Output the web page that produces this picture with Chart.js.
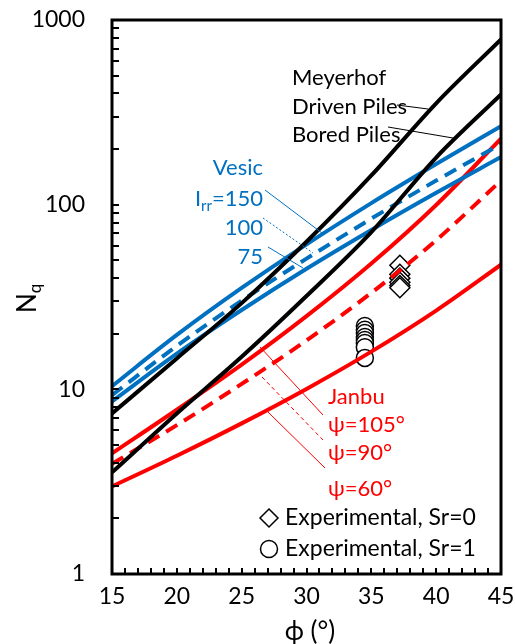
<!DOCTYPE html>
<html>
<head>
<meta charset="utf-8">
<script src="https://cdn.jsdelivr.net/npm/chart.js@4.4.1/dist/chart.umd.min.js"></script>
<style>
  html, body { margin: 0; padding: 0; background: #fff; }
  #wrap { width: 515px; height: 644px; }
</style>
</head>
<body>
<div id="wrap"><canvas id="chart" width="515" height="644"></canvas></div>
<script>
// friction angle (deg)
const phi = [15, 20, 25, 30, 35, 40, 45];

// Meyerhof
const meyerhofDriven = [7.4, 14.7, 29.3, 63, 144, 354, 785];
const meyerhofBored = [3.55, 7.4, 15, 32, 71, 180, 395];

// Vesic
const vesic150 = [10.4, 19.7, 35.4, 61, 102, 166, 266];
const vesic100 = [9.3, 17.2, 30.2, 51, 84, 135, 213];
const vesic75 = [8.6, 15.6, 26.9, 45, 73, 116, 181];

// Janbu
const janbu105 = [4.5, 7.75, 13.6, 24.9, 48, 99.6, 228];
const janbu90 = [3.95, 6.4, 10.7, 18.4, 33.3, 64.2, 135];
const janbu60 = [2.98, 4.37, 6.54, 10.05, 16.0, 26.7, 47.3];

// experiments
const expSr0Phi = [37.2, 37.2, 37.2, 37.2, 37.2, 37.2];
const expSr0Nq = [47, 42, 40, 38, 36.5, 35.5];
const expSr1Phi = [34.5, 34.5, 34.5, 34.5, 34.5, 34.5, 34.5, 34.5];
const expSr1Nq = [22, 21, 20.2, 19.2, 18.5, 17.8, 16.9, 14.8];

const xTicks = [15, 20, 25, 30, 35, 40, 45];
const yTicks = [1, 10, 100, 1000];

const BLUE = '#0070C0';
const RED = '#FF0000';
const FONT = 'Lato, "Open Sans", sans-serif';

function pts(xs, ys) {
  return xs.map((x, i) => ({ x: x, y: ys[i] }));
}

function curve(data, color, dashed) {
  return {
    data: pts(phi, data),
    borderColor: color,
    borderWidth: 4,
    borderDash: dashed ? [13, 8] : [],
    pointRadius: 0,
    showLine: true,
    fill: false,
    cubicInterpolationMode: 'monotone'
  };
}

function noPad(s) {
  s.paddingTop = 0;
  s.paddingBottom = 0;
  s.paddingLeft = 0;
  s.paddingRight = 0;
}

// inward ticks, frame, annotations
const decorPlugin = {
  id: 'decor',
  afterDraw(chart) {
    const ctx = chart.ctx;
    const a = chart.chartArea;
    const xs = chart.scales.x;
    const ys = chart.scales.y;
    ctx.save();

    // minor ticks pointing inside
    ctx.strokeStyle = '#000';
    ctx.lineWidth = 2;
    ctx.beginPath();
    for (let d = 16; d < 45; d++) {
      const px = Math.round(xs.getPixelForValue(d));
      ctx.moveTo(px, a.bottom);
      ctx.lineTo(px, a.bottom - 6);
    }
    for (let k = 0; k < 3; k++) {
      for (let m = 1; m <= 9; m++) {
        if (k === 0 && m === 1) continue;
        const py = Math.round(ys.getPixelForValue(m * Math.pow(10, k)));
        ctx.moveTo(a.left, py);
        ctx.lineTo(a.left + 7, py);
      }
    }
    ctx.stroke();

    // frame
    ctx.lineWidth = 3;
    ctx.strokeRect(a.left, a.top, a.right - a.left, a.bottom - a.top);

    // leader lines
    function leader(x1, y1, x2, y2, color, dash, w) {
      ctx.beginPath();
      ctx.strokeStyle = color;
      ctx.lineWidth = w || 1;
      ctx.setLineDash(dash || []);
      ctx.moveTo(x1, y1);
      ctx.lineTo(x2, y2);
      ctx.stroke();
      ctx.setLineDash([]);
    }
    leader(397, 105, 428, 109, '#000');
    leader(388, 127, 453, 138, '#000');
    leader(265, 190, 322, 233, BLUE);
    leader(263, 218, 313, 253, BLUE, [2, 2]);
    leader(268, 247, 303, 268, BLUE);
    leader(260, 347, 323, 415, RED);
    leader(262, 377, 323, 440, RED, [4, 3]);
    leader(268, 412, 325, 468, RED);

    ctx.textBaseline = 'middle';
    const F = '22px ' + FONT;
    ctx.font = F;

    // Meyerhof
    ctx.fillStyle = '#000';
    ctx.textAlign = 'left';
    ctx.fillText('Meyerhof', 292, 78);
    ctx.fillText('Driven Piles', 292, 107);
    ctx.fillText('Bored Piles', 292, 135);

    // Vesic
    ctx.fillStyle = BLUE;
    ctx.textAlign = 'right';
    ctx.fillText('Vesic', 263, 168);
    ctx.fillText('=150', 263, 199);
    const w150 = ctx.measureText('=150').width;
    ctx.font = '15px ' + FONT;
    const wrr = ctx.measureText('rr').width;
    ctx.fillText('rr', 263 - w150, 206);
    ctx.font = F;
    ctx.fillText('I', 263 - w150 - wrr, 199);
    ctx.fillText('100', 263, 228);
    ctx.fillText('75', 263, 257);

    // Janbu
    ctx.fillStyle = RED;
    ctx.textAlign = 'left';
    ctx.fillText('Janbu', 328, 397);
    ctx.fillText('\u03C8=105\u00B0', 328, 425);
    ctx.fillText('\u03C8=90\u00B0', 328, 453);
    ctx.fillText('\u03C8=60\u00B0', 328, 489);

    // legend
    ctx.fillStyle = '#000';
    ctx.font = '23px ' + FONT;
    ctx.fillText('Experimental, Sr=0', 285, 518);
    ctx.fillText('Experimental, Sr=1', 285, 549);
    ctx.lineWidth = 1.5;
    ctx.strokeStyle = '#000';
    ctx.beginPath();
    ctx.moveTo(269, 509); ctx.lineTo(278, 518); ctx.lineTo(269, 527); ctx.lineTo(260, 518);
    ctx.closePath();
    ctx.stroke();
    ctx.beginPath();
    ctx.arc(269, 549, 8.5, 0, Math.PI * 2);
    ctx.stroke();

    // axis titles
    ctx.textAlign = 'center';
    ctx.font = '26px ' + FONT;
    ctx.fillText('\u03D5 (\u00B0)', 310, 632);
    ctx.save();
    ctx.translate(28, 300);
    ctx.rotate(-Math.PI / 2);
    ctx.textAlign = 'left';
    ctx.fillText('N', -13, 0);
    const wn = ctx.measureText('N').width;
    ctx.font = '17px ' + FONT;
    ctx.fillText('q', -13 + wn, 8);
    ctx.restore();

    ctx.restore();
  }
};

new Chart(document.getElementById('chart'), {
  type: 'scatter',
  data: {
    datasets: [
      curve(meyerhofDriven, '#000', false),
      curve(meyerhofBored, '#000', false),
      curve(vesic150, BLUE, false),
      curve(vesic100, BLUE, true),
      curve(vesic75, BLUE, false),
      curve(janbu105, RED, false),
      curve(janbu90, RED, true),
      curve(janbu60, RED, false),
      {
        data: pts(expSr0Phi, expSr0Nq),
        pointStyle: 'rectRot',
        pointRadius: 10,
        pointBorderWidth: 1.5,
        pointBorderColor: '#000',
        pointBackgroundColor: '#fff',
        showLine: false
      },
      {
        data: pts(expSr1Phi, expSr1Nq),
        pointStyle: 'circle',
        pointRadius: 8.5,
        pointBorderWidth: 1.5,
        pointBorderColor: '#000',
        pointBackgroundColor: '#fff',
        showLine: false
      }
    ]
  },
  options: {
    responsive: false,
    animation: false,
    layout: { padding: { top: 20, right: 14, left: 0, bottom: 0 } },
    plugins: {
      legend: { display: false },
      tooltip: { enabled: false }
    },
    scales: {
      x: {
        type: 'linear',
        min: 15,
        max: 45,
        afterBuildTicks: s => { s.ticks = xTicks.map(v => ({ value: v })); },
        afterFit: s => { s.height = 70; noPad(s); },
        grid: { display: false, drawTicks: false },
        border: { display: false },
        ticks: {
          color: '#000',
          padding: 9,
          maxRotation: 0,
          font: { family: FONT, size: 23 }
        }
      },
      y: {
        type: 'logarithmic',
        min: 1,
        max: 1000,
        afterBuildTicks: s => { s.ticks = yTicks.map(v => ({ value: v })); },
        afterFit: s => { s.width = 112; noPad(s); },
        grid: { display: false, drawTicks: false },
        border: { display: false },
        ticks: {
          color: '#000',
          padding: 27,
          font: { family: FONT, size: 23 },
          callback: v => String(v)
        }
      }
    }
  },
  plugins: [decorPlugin]
});
</script>
</body>
</html>
